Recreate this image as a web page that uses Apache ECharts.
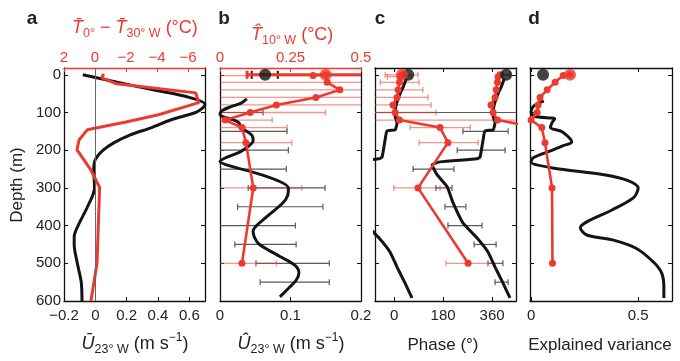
<!DOCTYPE html>
<html>
<head>
<meta charset="utf-8">
<script src="https://cdn.jsdelivr.net/npm/echarts@6/dist/echarts.min.js"></script>
<style>
  html, body { margin: 0; padding: 0; background: #fff; }
  #chart { width: 680px; height: 361px; }
</style>
</head>
<body>
<div id="chart"></div>
<script>
// ---- data: [value, depth] pairs, error bars as [low, high, depth] ----
const depthTicks = [0, 100, 200, 300, 400, 500, 600];

// a: mean zonal velocity at 23°W (bottom) and T(0°) - T(30°W) (top)
const aUbar = [[-0.08, 0], [0.14, 20], [0.37, 40], [0.6, 60], [0.7, 78], [0.68, 90], [0.64, 100], [0.48, 120], [0.36, 140], [0.22, 160], [0.12, 180], [0.05, 200], [0.0, 225], [-0.01, 250], [-0.005, 300], [-0.05, 350], [-0.11, 400], [-0.135, 430], [-0.135, 450], [-0.115, 500], [-0.09, 550], [-0.085, 600]];
const aTdiff = [[-0.55, -3], [-0.45, 8], [-1.4, 24], [-6.5, 48], [-6.7, 74], [-4.1, 106], [-2.0, 125], [0.5, 146], [1.03, 173], [1.16, 199], [0.3, 250], [-0.3, 299], [-0.13, 500], [0.26, 600]];

// b: amplitudes
const bUhat = [[0.038, 64], [0.03, 75], [0.015, 85], [0.003, 95], [0.0, 105], [0.005, 112], [0.02, 120], [0.027, 128], [0.03, 140], [0.045, 160], [0.047, 175], [0.04, 190], [0.028, 205], [0.008, 220], [0.0, 230], [0.02, 245], [0.05, 260], [0.081, 280], [0.097, 300], [0.096, 320], [0.089, 340], [0.066, 377], [0.052, 400], [0.047, 415], [0.049, 432], [0.056, 450], [0.085, 482], [0.106, 505], [0.112, 525], [0.108, 545], [0.098, 565], [0.085, 589]];
const bUhatErr = [[-0.01, 0.061, 100], [-0.01, 0.095, 150], [-0.01, 0.097, 200], [-0.01, 0.094, 250], [0.04, 0.149, 300], [0.025, 0.146, 350], [-0.01, 0.107, 400], [0.021, 0.108, 450], [0.051, 0.155, 500], [0.057, 0.155, 550]];
const bUhatSurf = [[0.064, 0]];
const bUhatSurfErr = [[0.045, 0.082, 0]];
const bThat = [[0.33, 2], [0.375, 0], [0.38, 20], [0.425, 40], [0.34, 60], [0.2, 80], [0.107, 100], [0.018, 120], [0.078, 140], [0.092, 180], [0.118, 300], [0.078, 500]];
const bThatSurf = [[0.375, 0]];
const bThatSurfErr = [[0.096, 0.66, 0]];
const bThatErr = [[-0.1, 0.6, 2], [-0.1, 0.6, 20], [-0.1, 0.6, 40], [-0.1, 0.6, 60], [-0.1, 0.6, 80], [-0.1, 0.374, 100], [-0.1, 0.185, 120], [-0.1, 0.238, 140], [-0.1, 0.255, 180], [-0.1, 0.29, 300], [-0.1, 0.2, 500]];

// c: phases (degrees); the upper part is drawn again one cycle over, like the original
const cPhaseU = [[405, 10], [395, 30], [382, 50], [372, 70], [365, 90], [364, 110], [371, 127], [364, 146], [334, 149], [327, 173], [316, 218], [305, 223], [169, 231], [140, 239], [158, 265], [195, 297], [217, 340], [253, 393], [305, 433], [345, 470], [371, 510], [400, 552], [426, 592]];
const cPhaseUSurf = [[412, 0]];
const cPhaseUErr = [[400, 425, 0], [-80, 500, 100], [253, 419, 150], [232, 408, 200], [70, 220, 250], [154, 213, 300], [187, 264, 350], [198, 323, 400], [294, 375, 450], [345, 400, 500], [371, 419, 550]];
const cPhaseT = [[29, 0], [22, 5], [20, 20], [15, 40], [11, 60], [-4, 80], [4, 100], [20, 120], [169, 140], [198, 180], [88, 300], [272, 500]];
const cPhaseTSurf = [[29, 0]];
const cPhaseTErr = [[-33, 88, 0], [-25, 65, 5], [-50, 92, 20], [-80, 106, 40], [-80, 125, 60], [-80, 136, 80], [-80, 154, 100], [-80, 500, 120], [59, 280, 140], [92, 309, 180], [-1, 169, 300], [191, 364, 500]];

// d: explained variance
const dEvU = [[0.06, 70], [0.04, 74], [0.01, 84], [0.0, 98], [0.015, 110], [0.11, 117], [0.1, 125], [0.09, 140], [0.145, 151], [0.19, 178], [0.15, 188], [0.1, 200], [0.01, 220], [0.0, 231], [0.1, 247], [0.34, 265], [0.45, 280], [0.5, 300], [0.48, 325], [0.38, 358], [0.26, 390], [0.23, 406], [0.26, 425], [0.38, 438], [0.49, 460], [0.57, 496], [0.61, 526], [0.62, 563], [0.62, 592]];
const dEvUSurf = [[0.056, 0]];
const dEvT = [[0.182, 0], [0.15, 2], [0.112, 20], [0.075, 40], [0.042, 60], [0.033, 80], [0.028, 100], [0.0, 120], [0.05, 140], [0.065, 180], [0.098, 300], [0.1, 500]];
const dEvTSurf = [[0.182, 0]];

// ---- styles ----
const FONT = '"Liberation Sans", Arial, Helvetica, sans-serif';
const RED = '#ec3a2e';
const RED_BAR = 'rgba(236,58,46,0.55)';
const BLACK = '#141414';
const GREY_BAR = '#5a5a5a';

const chart = echarts.init(document.getElementById('chart'), null, { renderer: 'canvas' });

const minus = (v) => String(v).replace('-', '\u2212');

function xAxis(gi, pos, min, max, ticks, opts) {
  opts = opts || {};
  const col = opts.color || '#111';
  return {
    type: 'value', gridIndex: gi, position: pos, min: min, max: max, inverse: !!opts.inverse,
    axisLine: { show: true, onZero: false, lineStyle: { color: col, width: 1.3 } },
    axisTick: { show: true, inside: true, length: 4, customValues: ticks, lineStyle: { color: col } },
    axisLabel: {
      show: !!opts.labels, customValues: ticks, formatter: opts.fmt || minus,
      color: opts.labelColor || '#222', fontSize: 15, fontFamily: FONT, margin: pos === 'top' ? 3 : 7
    },
    splitLine: { show: false }
  };
}

function yAxis(gi, pos, labels) {
  return {
    type: 'value', gridIndex: gi, position: pos, inverse: true, min: -18, max: 600,
    axisLine: { show: true, onZero: false, lineStyle: { color: '#111', width: 1.3 } },
    axisTick: { show: true, inside: true, length: 4, customValues: depthTicks, lineStyle: { color: '#111' } },
    axisLabel: { show: labels, customValues: depthTicks, color: '#222', fontSize: 15, fontFamily: FONT, margin: 3 },
    splitLine: { show: false }
  };
}

function errorBars(xi, yi, data, color, width, cap) {
  return {
    type: 'custom', xAxisIndex: xi, yAxisIndex: yi, data: data, clip: true, silent: true, z: 1,
    encode: { x: [0, 1], y: 2 },
    renderItem: function (params, api) {
      const p0 = api.coord([api.value(0), api.value(2)]);
      const p1 = api.coord([api.value(1), api.value(2)]);
      const st = { stroke: color, lineWidth: width };
      const h = cap;
      return {
        type: 'group', children: [
          { type: 'line', shape: { x1: p0[0], y1: p0[1], x2: p1[0], y2: p1[1] }, style: st },
          { type: 'line', shape: { x1: p0[0], y1: p0[1] - h, x2: p0[0], y2: p0[1] + h }, style: st },
          { type: 'line', shape: { x1: p1[0], y1: p1[1] - h, x2: p1[0], y2: p1[1] + h }, style: st }
        ]
      };
    }
  };
}

function curve(xi, yi, data, color, width, smooth, z) {
  return {
    type: 'line', xAxisIndex: xi, yAxisIndex: yi, data: data, symbol: 'none', smooth: smooth,
    lineStyle: { color: color, width: width }, z: z || 2, clip: true, silent: true
  };
}

function dotted(xi, yi, data) {
  return {
    type: 'line', xAxisIndex: xi, yAxisIndex: yi, data: data, symbol: 'circle', symbolSize: 7,
    showSymbol: true, showAllSymbol: true, itemStyle: { color: RED }, lineStyle: { color: RED, width: 2.6 },
    z: 3, clip: true, silent: true
  };
}

function bigDot(xi, yi, data, color) {
  return {
    type: 'scatter', xAxisIndex: xi, yAxisIndex: yi, data: data, symbolSize: 12,
    itemStyle: { color: color }, z: 4, clip: true, silent: true
  };
}

const LH = 25;
const sub = { fontSize: 12.5, fontFamily: FONT, lineHeight: 13, verticalAlign: 'bottom' };
const sup = { fontSize: 12, fontFamily: FONT, lineHeight: 13, verticalAlign: 'top' };
const it = { fontSize: 18, fontStyle: 'italic', fontFamily: FONT, lineHeight: LH };
const nm = { fontSize: 18, fontFamily: FONT, lineHeight: LH };

function richText(x, y, text, color, align) {
  return {
    type: 'text', x: x, y: y, silent: true,
    style: {
      text: text, fill: color, align: align || 'center', verticalAlign: 'middle',
      rich: { t: Object.assign({ fill: color }, it), n: Object.assign({ fill: color }, nm), s: Object.assign({ fill: color }, sub), p: Object.assign({ fill: color }, sup) }
    }
  };
}

function plainText(x, y, text, size, bold, rot) {
  return {
    type: 'text', x: x, y: y, rotation: rot || 0, silent: true,
    style: { text: text, fill: '#222', font: (bold ? 'bold ' : '') + size + 'px ' + FONT, align: 'center', verticalAlign: 'middle' }
  };
}

const option = {
  animation: false,
  backgroundColor: '#fff',
  grid: [
    { left: 64, top: 68, width: 141, height: 233 },
    { left: 220, top: 68, width: 141, height: 233 },
    { left: 375, top: 68, width: 141, height: 233 },
    { left: 530, top: 68, width: 142, height: 233 }
  ],
  xAxis: [
    xAxis(0, 'bottom', -0.2, 0.7, [-0.2, 0, 0.2, 0.4, 0.6], { labels: true }),
    xAxis(0, 'top', -7.1, 2, [2, 0, -2, -4, -6], { labels: true, inverse: true, color: RED, labelColor: RED }),
    xAxis(1, 'bottom', 0, 0.2, [0, 0.1, 0.2], { labels: true }),
    xAxis(1, 'top', 0, 0.5, [0, 0.25, 0.5], { labels: true, color: RED, labelColor: RED }),
    xAxis(2, 'bottom', -70, 448, [0, 180, 360], { labels: true }),
    xAxis(2, 'top', -70, 448, [0, 180, 360], {}),
    xAxis(3, 'bottom', -0.005, 0.658, [0, 0.5], { labels: true }),
    xAxis(3, 'top', -0.005, 0.658, [0, 0.5], {})
  ],
  yAxis: [
    yAxis(0, 'left', true), yAxis(0, 'right', false),
    yAxis(1, 'left', false), yAxis(1, 'right', false),
    yAxis(2, 'left', false), yAxis(2, 'right', false),
    yAxis(3, 'left', false), yAxis(3, 'right', false)
  ],
  series: [
    // a
    Object.assign(curve(0, 0, aUbar, BLACK, 3, 0.3, 2), {
      markLine: {
        silent: true, symbol: ['none', 'none'], label: { show: false },
        lineStyle: { color: '#666', width: 1, type: 'solid' }, data: [{ xAxis: 0 }]
      }
    }),
    curve(1, 0, aTdiff, RED, 3, 0, 3),
    // b
    errorBars(2, 2, bUhatErr, GREY_BAR, 1.2, 3),
    errorBars(2, 2, bUhatSurfErr, BLACK, 2, 4),
    errorBars(3, 2, bThatErr, RED_BAR, 1.3, 3),
    errorBars(3, 2, bThatSurfErr, RED, 3, 4),
    curve(2, 2, bUhat, BLACK, 3, 0.3, 2),
    dotted(3, 2, bThat),
    bigDot(3, 2, bThatSurf, RED),
    bigDot(2, 2, bUhatSurf, BLACK),
    // c
    errorBars(4, 4, cPhaseUErr, GREY_BAR, 1.2, 3),
    errorBars(4, 4, cPhaseTErr, RED_BAR, 1.3, 3),
    curve(4, 4, cPhaseU, BLACK, 3, 0.15, 2),
    curve(4, 4, cPhaseU.map(p => [p[0] - 360, p[1]]), BLACK, 3, 0.15, 2),
    dotted(4, 4, cPhaseT),
    dotted(4, 4, cPhaseT.slice(0, 9).map(p => [p[0] + 360, p[1]])),
    bigDot(4, 4, cPhaseUSurf, BLACK),
    bigDot(4, 4, cPhaseUSurf.map(p => [p[0] - 360, p[1]]), BLACK),
    bigDot(4, 4, cPhaseTSurf, RED),
    // d
    curve(6, 6, dEvU, BLACK, 3, 0.3, 2),
    dotted(6, 6, dEvT),
    bigDot(6, 6, dEvTSurf, RED),
    bigDot(6, 6, dEvUSurf, BLACK)
  ],
  graphic: [
    plainText(32, 19, 'a', 19, true),
    plainText(224, 19, 'b', 19, true),
    plainText(380, 19, 'c', 19, true),
    plainText(534, 19, 'd', 19, true),
    richText(72, 28, '{t|T\u0304}{s|0°}{n| \u2212 }{t|T\u0304}{s|30° W}{n| (°C)}', RED, 'left'),
    richText(251, 35, '{t|T\u0302}{s|10° W}{n| (°C)}', RED, 'left'),
    richText(135, 344, '{t|U\u0304}{s|23° W}{n| (m s}{p|\u22121}{n|)}', '#222', 'center'),
    richText(291, 344, '{t|U\u0302}{s|23° W}{n| (m s}{p|\u22121}{n|)}', '#222', 'center'),
    plainText(443, 345, 'Phase (°)', 17, false),
    plainText(600, 345, 'Explained variance', 17, false),
    plainText(17, 185, 'Depth (m)', 17, false, Math.PI / 2)
  ]
};

chart.setOption(option);
</script>
</body>
</html>
